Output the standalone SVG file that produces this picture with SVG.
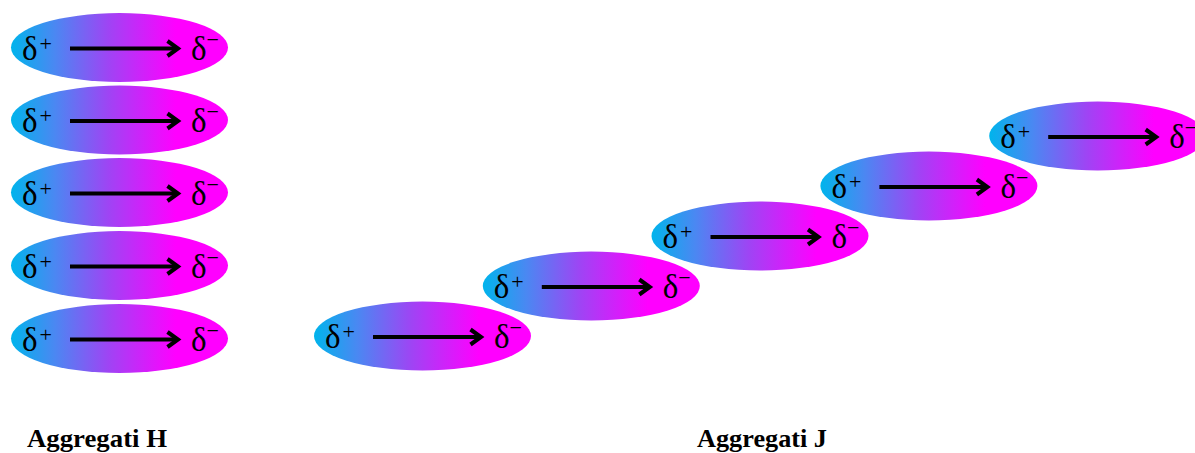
<svg xmlns="http://www.w3.org/2000/svg" width="1195" height="453" viewBox="0 0 1195 453">
  <style>
    .d { font-family: "Liberation Serif", "Times New Roman", serif; fill: #000; }
    .big { font-size: 33px; }
    .sup { font-size: 22px; }
    .lbl { font-family: "Liberation Serif", "Times New Roman", serif; font-weight: bold; font-size: 25px; fill: #000; }
    .arr { stroke: #000; stroke-width: 4; fill: none; }
    .head { stroke: #000; stroke-width: 4; fill: none; stroke-linejoin: miter; stroke-linecap: butt; }
  </style>
  <defs>
    <linearGradient id="g" x1="0" y1="0" x2="1" y2="0">
      <stop offset="0" stop-color="#00b4ec"/>
      <stop offset="0.2" stop-color="#4a88f2"/>
      <stop offset="0.45" stop-color="#9f44f4"/>
      <stop offset="0.76" stop-color="#ff00ff"/>
      <stop offset="1" stop-color="#ff00ff"/>
    </linearGradient>
    <g id="mol">
      <ellipse cx="0" cy="0" rx="108.5" ry="34.5" fill="url(#g)"/>
      <text class="d big" x="-97.5" y="12">δ</text>
      <text class="d sup" x="-80" y="3">+</text>
      <text class="d big" x="71.5" y="12">δ</text>
      <text class="d sup" x="87" y="-1">−</text>
    </g>
    <g id="arrow">
      <path class="arr" d="M-49.5,1 H57"/>
      <path class="head" d="M48,-6.5 L58.5,1 L48,8.5"/>
    </g>
  </defs>
  <g id="H1" transform="translate(119.5,47.5)"><use href="#mol"/></g>
  <g id="H2" transform="translate(119.5,120)"><use href="#mol"/></g>
  <g id="H3" transform="translate(119.5,192.5)"><use href="#mol"/></g>
  <g id="H4" transform="translate(119.5,265.5)"><use href="#mol"/></g>
  <g id="H5" transform="translate(119.5,338.5)"><use href="#mol"/></g>
  <g id="J1" transform="translate(422.5,336)"><use href="#mol"/></g>
  <g id="J2" transform="translate(591.3,286)"><use href="#mol"/></g>
  <g id="J3" transform="translate(760,236)"><use href="#mol"/></g>
  <g id="J4" transform="translate(928.9,186)"><use href="#mol"/></g>
  <g id="J5" transform="translate(1097.7,136)"><use href="#mol"/></g>
  <g id="connectors">
    <use href="#arrow" transform="translate(119.5,47.5)"/>
    <use href="#arrow" transform="translate(119.5,120)"/>
    <use href="#arrow" transform="translate(119.5,192.5)"/>
    <use href="#arrow" transform="translate(119.5,265.5)"/>
    <use href="#arrow" transform="translate(119.5,338.5)"/>
    <use href="#arrow" transform="translate(422.5,336)"/>
    <use href="#arrow" transform="translate(591.3,286)"/>
    <use href="#arrow" transform="translate(760,236)"/>
    <use href="#arrow" transform="translate(928.9,186)"/>
    <use href="#arrow" transform="translate(1097.7,136)"/>
  </g>
  <text class="lbl" x="27" y="446.5" textLength="140" lengthAdjust="spacingAndGlyphs">Aggregati H</text>
  <text class="lbl" x="697" y="446.5" textLength="130" lengthAdjust="spacingAndGlyphs">Aggregati J</text>
</svg>
